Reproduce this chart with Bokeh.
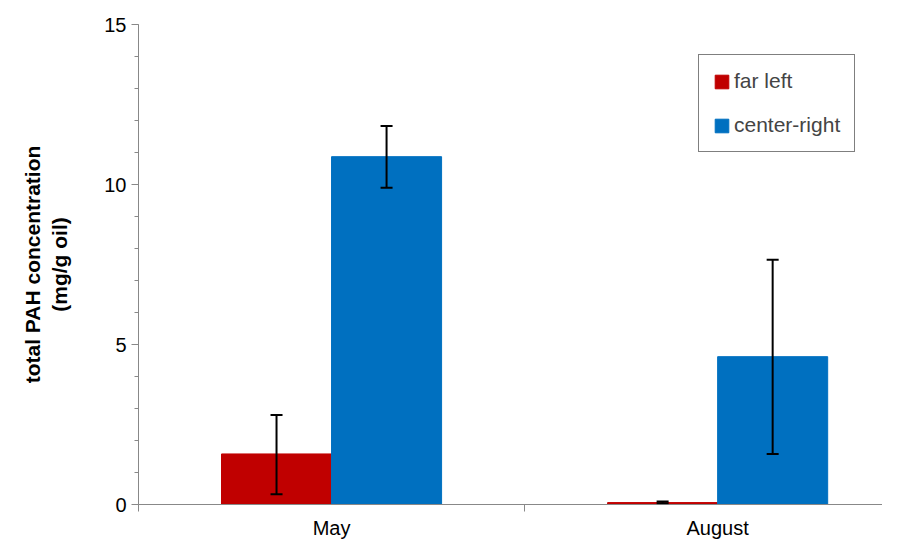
from bokeh.plotting import figure
from bokeh.models import ColumnDataSource, FixedTicker, Whisker, Legend, LegendItem, Range1d
from bokeh.embed import file_html
from bokeh.resources import INLINE

months = ["May", "August"]
far_left = [1.58, 0.06]
far_left_lo = [0.32, 0.04]
far_left_hi = [2.8, 0.09]
center_right = [10.87, 4.62]
center_right_lo = [9.9, 1.58]
center_right_hi = [11.83, 7.65]

centers = [0.5, 1.5]
w = 0.285
src_r = ColumnDataSource(dict(x=[c - w / 2 for c in centers], top=far_left, lo=far_left_lo, hi=far_left_hi))
src_b = ColumnDataSource(dict(x=[c + w / 2 for c in centers], top=center_right, lo=center_right_lo, hi=center_right_hi))

p = figure(width=882, height=541, output_backend="svg", toolbar_location=None,
           x_range=Range1d(0, 1.927), y_range=Range1d(0, 15),
           min_border_left=138, min_border_right=0, min_border_top=24, min_border_bottom=30)
p.outline_line_color = None
p.xgrid.visible = False
p.ygrid.visible = False

r1 = p.vbar(x="x", top="top", width=w, source=src_r, color="#C00000")
r2 = p.vbar(x="x", top="top", width=w, source=src_b, color="#0070C0")
for s in (src_r, src_b):
    wh = Whisker(base="x", lower="lo", upper="hi", source=s, line_color="black", line_width=2, level="overlay")
    wh.upper_head.size = 12
    wh.lower_head.size = 12
    wh.upper_head.line_width = 2
    wh.lower_head.line_width = 2
    p.add_layout(wh)

font = "Liberation Sans"
p.xaxis.ticker = FixedTicker(ticks=centers, minor_ticks=[0, 1, 2])
p.xaxis.major_label_overrides = {0.5: "May", 1.5: "August"}
p.xaxis.major_tick_out = 0
p.xaxis.major_tick_in = 0
p.xaxis.minor_tick_out = 7
p.xaxis.minor_tick_in = 0
p.xaxis.major_label_standoff = 5
p.yaxis.ticker = FixedTicker(ticks=[0, 5, 10, 15], minor_ticks=list(range(16)))
p.yaxis.major_tick_out = 7
p.yaxis.major_tick_in = 0
p.yaxis.minor_tick_out = 4
p.yaxis.minor_tick_in = 0
for ax in (p.xaxis, p.yaxis):
    ax.axis_line_color = "#888888"
    ax.major_tick_line_color = "#888888"
    ax.minor_tick_line_color = "#888888"
    ax.major_label_text_font = font
    ax.major_label_text_font_size = "20px"
    ax.major_label_text_color = "black"
p.yaxis.axis_label = "total PAH concentration\n(mg/g oil)"
p.yaxis.axis_label_text_font = font
p.yaxis.axis_label_text_font_style = "bold"
p.yaxis.axis_label_text_font_size = "21px"
p.yaxis.axis_label_text_color = "black"
p.yaxis.axis_label_standoff = 30

legend = Legend(items=[LegendItem(label="far left", renderers=[r1]),
                       LegendItem(label="center-right", renderers=[r2])],
                location=(560, 352))
legend.label_text_font = font
legend.label_text_font_size = "21px"
legend.border_line_color = "black"
legend.glyph_width = 17
legend.glyph_height = 17
legend.spacing = 20
legend.padding = 14
legend.margin = 0
legend.label_standoff = 4
p.add_layout(legend)

open("out.html", "w").write(file_html(p, INLINE))
